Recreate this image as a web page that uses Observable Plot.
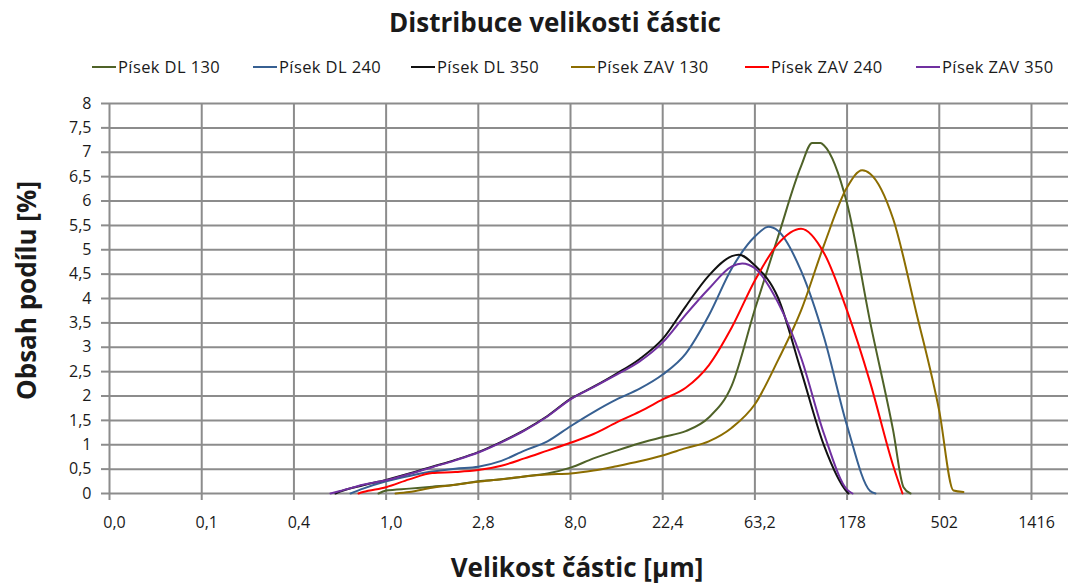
<!DOCTYPE html>
<html><head><meta charset="utf-8">
<script src="https://cdn.jsdelivr.net/npm/d3@7"></script>
<script src="https://cdn.jsdelivr.net/npm/@observablehq/plot@0.6"></script>
<style>
body{margin:0;background:#fff;}
#chart{position:relative;width:1069px;height:585px;font-family:"Open Sans",sans-serif;color:#1a1a1a;overflow:hidden;}
#title{position:absolute;left:41px;width:1028px;top:5px;text-align:center;font-size:26px;font-weight:700;line-height:34px;}
#legend{position:absolute;left:0;top:56px;width:1069px;height:22px;font-size:16.5px;line-height:22px;white-space:nowrap;}
.item{position:absolute;top:0;display:flex;align-items:center;letter-spacing:0.4px;}
.swatch{width:24px;height:2px;margin-right:2px;}
#plot{position:absolute;left:0;top:90px;}
</style></head><body>
<div id="chart"><div id="title"></div><div id="legend"></div><div id="plot"></div></div>
<script>
const titleText = "Distribuce velikosti částic";
const xTitle = "Velikost částic [μm]";
const yTitle = "Obsah podílu [%]";

const seriesNames = ["Písek DL 130", "Písek DL 240", "Písek DL 350", "Písek ZAV 130", "Písek ZAV 240", "Písek ZAV 350"];
const seriesColors = ["#4f6228", "#376092", "#111111", "#8c6d00", "#ff0000", "#7030a0"];

const xTickValues = [0.0446, 0.1258, 0.3547, 1.0, 2.819, 7.949, 22.41, 63.18, 178.1, 502.2, 1416];
const xTickLabels = ["0,0", "0,1", "0,4", "1,0", "2,8", "8,0", "22,4", "63,2", "178", "502", "1416"];
const yTickValues = [0, 0.5, 1, 1.5, 2, 2.5, 3, 3.5, 4, 4.5, 5, 5.5, 6, 6.5, 7, 7.5, 8];

// Písek DL 130
const dl130Size = [0.918, 1.0, 1.296, 1.679, 2.176, 2.819, 3.653, 4.734, 6.134, 7.949, 10.30, 13.35, 17.30, 22.41, 29.04, 37.63, 48.76, 63.18, 81.87, 106.1, 120.3, 132.1, 137.5, 178.1, 230.8, 299.1, 335.9, 363.4];
const dl130Value = [0, 0.06, 0.10, 0.14, 0.18, 0.25, 0.29, 0.35, 0.41, 0.53, 0.72, 0.88, 1.03, 1.16, 1.28, 1.56, 2.22, 3.78, 5.26, 6.71, 7.19, 7.19, 7.14, 5.95, 3.52, 1.29, 0.13, 0];
// Písek DL 240
const dl240Size = [0.670, 0.772, 1.0, 1.296, 1.679, 2.176, 2.819, 3.653, 4.734, 6.134, 7.949, 10.30, 13.35, 17.30, 22.41, 29.04, 37.63, 48.76, 63.18, 73.6, 81.87, 106.1, 137.5, 178.1, 230.8, 245.1];
const dl240Value = [0, 0.10, 0.25, 0.36, 0.45, 0.51, 0.55, 0.67, 0.88, 1.07, 1.38, 1.67, 1.93, 2.15, 2.44, 2.87, 3.65, 4.62, 5.27, 5.47, 5.39, 4.57, 3.20, 1.39, 0.05, 0];
// Písek DL 350
const dl350Size = [0.566, 0.596, 0.772, 1.0, 1.296, 1.679, 2.176, 2.819, 3.653, 4.734, 6.134, 7.949, 10.30, 13.35, 17.30, 22.41, 29.04, 37.63, 48.76, 52.6, 63.18, 81.87, 106.1, 137.5, 178.1, 181.0];
const dl350Value = [0, 0.04, 0.17, 0.28, 0.41, 0.55, 0.69, 0.85, 1.06, 1.30, 1.59, 1.94, 2.19, 2.46, 2.76, 3.17, 3.84, 4.47, 4.87, 4.90, 4.68, 4.02, 2.52, 0.98, 0.03, 0];
// Písek ZAV 130
const zav130Size = [1.111, 1.296, 1.679, 2.176, 2.819, 3.653, 4.734, 6.134, 7.949, 10.30, 13.35, 17.30, 22.41, 29.04, 37.63, 48.76, 63.18, 81.87, 106.1, 137.5, 178.1, 211.1, 230.8, 299.1, 387.5, 502.2, 589, 659];
const zav130Value = [0, 0.03, 0.12, 0.18, 0.24, 0.29, 0.35, 0.39, 0.41, 0.47, 0.56, 0.66, 0.78, 0.93, 1.07, 1.35, 1.83, 2.73, 3.75, 5.10, 6.28, 6.63, 6.56, 5.63, 3.72, 1.69, 0.06, 0.03];
// Písek ZAV 240
const zav240Size = [0.733, 0.772, 1.0, 1.296, 1.679, 2.176, 2.819, 3.653, 4.734, 6.134, 7.949, 10.30, 13.35, 17.30, 22.41, 29.04, 37.63, 48.76, 63.18, 81.87, 106.1, 137.5, 178.1, 230.8, 299.1, 332.1];
const zav240Value = [0, 0.03, 0.13, 0.29, 0.42, 0.44, 0.48, 0.57, 0.72, 0.88, 1.04, 1.22, 1.46, 1.68, 1.93, 2.17, 2.63, 3.41, 4.37, 5.12, 5.43, 4.93, 3.75, 2.28, 0.57, 0];
// Písek ZAV 350
const zav350Size = [0.535, 0.596, 0.772, 1.0, 1.296, 1.679, 2.176, 2.819, 3.653, 4.734, 6.134, 7.949, 10.30, 13.35, 17.30, 22.41, 29.04, 37.63, 48.76, 54.8, 63.18, 81.87, 106.1, 137.5, 178.1, 189.3];
const zav350Value = [0, 0.05, 0.18, 0.27, 0.40, 0.54, 0.68, 0.84, 1.05, 1.29, 1.58, 1.93, 2.18, 2.44, 2.71, 3.10, 3.67, 4.20, 4.66, 4.72, 4.62, 3.92, 2.79, 1.22, 0.08, 0];

const seriesSizes = [dl130Size, dl240Size, dl350Size, zav130Size, zav240Size, zav350Size];
const seriesValues = [dl130Value, dl240Value, dl350Value, zav130Value, zav240Value, zav350Value];

const data = seriesNames.flatMap((name, k) =>
  seriesSizes[k].map((s, i) => ({name, size: s, value: seriesValues[k][i]})));

document.getElementById("title").textContent = titleText;
const legend = document.getElementById("legend");
const legendLeft = [92, 253, 411, 571, 745, 916];
seriesNames.forEach((n, k) => {
  const it = document.createElement("div"); it.className = "item"; it.style.left = legendLeft[k] + "px";
  const sw = document.createElement("span"); sw.className = "swatch"; sw.style.background = seriesColors[k];
  const tx = document.createElement("span"); tx.textContent = n;
  it.appendChild(sw); it.appendChild(tx); legend.appendChild(it);
});

const xLabelMap = new Map(xTickValues.map((v, i) => [v, xTickLabels[i]]));
const fmtY = d => String(d).replace(".", ",");
const gridColor = "#8c8c8c";

const chart = Plot.plot({
  width: 1069, height: 495,
  marginLeft: 109, marginRight: 1, marginTop: 13, marginBottom: 92,
  style: {fontFamily: "Open Sans", fontSize: "16px", color: "#1a1a1a", background: "transparent"},
  x: {type: "log", domain: [0.0446, 2147]},
  y: {domain: [0, 8]},
  color: {domain: seriesNames, range: seriesColors},
  marks: [
    Plot.gridY(yTickValues, {stroke: gridColor, strokeOpacity: 1, strokeWidth: 2}),
    Plot.gridX(xTickValues, {stroke: gridColor, strokeOpacity: 1, strokeWidth: 2}),
    Plot.axisY(yTickValues, {tickSize: 8, tickPadding: 10, tickFormat: fmtY, stroke: gridColor, strokeWidth: 2, fill: "#1a1a1a", fontSize: 16, label: null}),
    Plot.axisX(xTickValues, {tickSize: 7, stroke: gridColor, strokeWidth: 2, fill: "none", label: null}),
    Plot.text(xTickValues, {x: d => d, text: d => xLabelMap.get(d), frameAnchor: "bottom", lineAnchor: "middle", dy: 29, dx: 5, fontSize: 16, fill: "#1a1a1a"}),
    Plot.line(data, {x: "size", y: "value", z: "name", stroke: "name", strokeWidth: 2, curve: "monotone-x"}),
    Plot.text([xTitle], {text: d => d, frameAnchor: "bottom", lineAnchor: "middle", textAnchor: "middle", dy: 75, dx: -12, fontSize: 26, fontWeight: "bold", fill: "#1a1a1a"}),
    Plot.text([yTitle], {text: d => d, frameAnchor: "left", lineAnchor: "middle", textAnchor: "middle", rotate: -90, dx: -82, dy: -8, fontSize: 26, fontWeight: "bold", fill: "#1a1a1a"})
  ]
});
document.getElementById("plot").appendChild(chart);
</script>
</body></html>
